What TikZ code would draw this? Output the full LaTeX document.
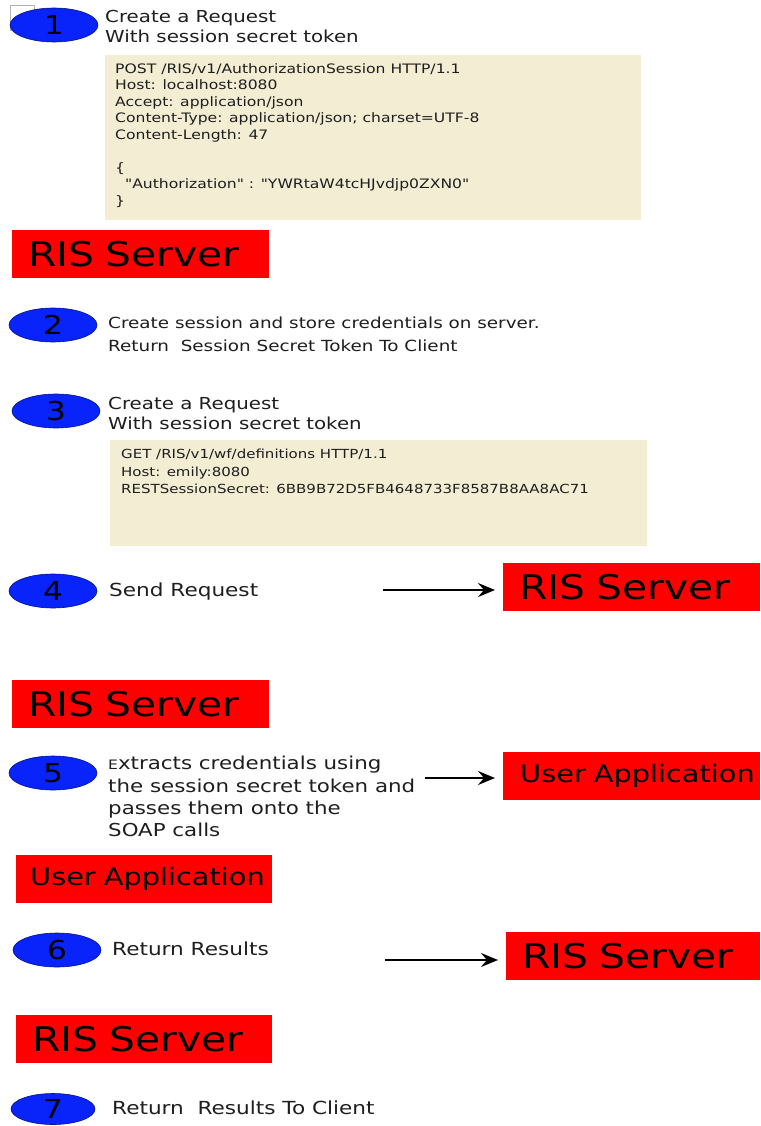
\documentclass[tikz,border=0pt]{standalone}
\usepackage{fontspec}
\setmainfont[FakeStretch=1.2]{DejaVu Sans}
\newfontfamily\codefont[FakeStretch=1.2]{DejaVu Sans}
\usetikzlibrary{shapes.geometric,arrows.meta}
\definecolor{boxred}{RGB}{255,0,0}
\definecolor{stepblue}{RGB}{8,36,250}
\definecolor{codebg}{RGB}{243,237,211}
\definecolor{txtgray}{RGB}{30,30,30}
\tikzset{
  stepell/.style={ellipse, fill=stepblue, draw=stepblue!55!black, line width=0.6pt,
    minimum width=88pt, minimum height=34pt, inner sep=0pt,
    font=\fontsize{26}{26}\selectfont},
  redbox/.style={fill=boxred, anchor=north west, minimum height=48pt, align=left,
    inner ysep=0pt, text=black},
  steptext/.style={anchor=north west, inner sep=0pt, align=left, text=txtgray},
  codebox/.style={fill=codebg, draw=none, anchor=north west, inner sep=0pt},
  codetext/.style={anchor=north west, inner sep=0pt, align=left, text=txtgray},
  arr/.style={line width=1.8pt, -{Stealth[length=17pt,width=14pt,inset=6pt]}, shorten >=8pt}
}
\begin{document}
\begin{tikzpicture}[x=1pt,y=-1pt]
\useasboundingbox (0,0) rectangle (760,1126);
\fill[white] (0,0) rectangle (760,1126);

% step 1
\draw[gray!60, line width=0.6pt] (10,5) rectangle (34,30);
\node[stepell] (e1) at (54,25) {1};
\node[steptext, font=\fontsize{16.5}{20.5}\selectfont] (t1) at (105,10)
  {Create a Request\\With session secret token};
\node[codebox, minimum width=536pt, minimum height=165pt] (c1) at (105,55) {};
\node[codetext, font=\codefont\fontsize{13}{16.5}\selectfont] (c1t) at (115,63)
  {POST /RIS/v1/AuthorizationSession HTTP/1.1\\
   Host: localhost:8080\\
   Accept: application/json\\
   Content-Type: application/json; charset=UTF-8\\
   Content-Length: 47\\
   \mbox{}\\
   \{\\
   \ \ "Authorization" : "YWRtaW4tcHJvdjp0ZXN0"\\
   \}};
\node[redbox, text width=225pt, inner xsep=16pt, font=\fontsize{34}{34}\selectfont] (r1) at (12,230) {RIS Server};

% step 2
\node[stepell] (e2) at (53,325) {2};
\node[steptext, font=\fontsize{15.3}{23}\selectfont] (t2) at (108,317)
  {Create session and store credentials on server.\\Return\ \ Session Secret Token To Client};

% step 3
\node[stepell] (e3) at (56,411) {3};
\node[steptext, font=\fontsize{16.5}{20}\selectfont] (t3) at (108,397)
  {Create a Request\\With session secret token};
\node[codebox, minimum width=537pt, minimum height=106pt] (c2) at (110,440) {};
\node[codetext, font=\codefont\fontsize{12.5}{17.5}\selectfont] (c2t) at (121,449)
  {GET /RIS/v1/wf/definitions HTTP/1.1\\
   Host: emily:8080\\
   RESTSessionSecret: 6BB9B72D5FB4648733F8587B8AA8AC71};

% step 4
\node[stepell] (e4) at (53,591) {4};
\node[steptext, font=\fontsize{18}{20}\selectfont] (t4) at (109,583) {Send Request};
\node[redbox, text width=225pt, inner xsep=16pt, font=\fontsize{34}{34}\selectfont] (r4) at (503,563) {RIS Server};
\coordinate (a4) at (383,590);
\draw[arr] (a4) -- (a4 -| r4.west);

% step 5
\node[redbox, text width=225pt, inner xsep=16pt, font=\fontsize{34}{34}\selectfont] (r5) at (12,680) {RIS Server};
\node[stepell] (e5) at (53,773) {5};
\node[steptext, font=\fontsize{17.8}{22.3}\selectfont] (t5) at (108,756)
  {{\fontsize{13}{22.3}\selectfont E}xtracts credentials using\\the session secret token and\\passes them onto the\\SOAP calls};
\node[redbox, text width=223pt, inner xsep=17pt, font=\fontsize{24}{24}\selectfont] (u5) at (503,752) {\mbox{User Application}};
\coordinate (a5) at (425,778);
\draw[arr] (a5) -- (a5 -| u5.west);

% step 6
\node[redbox, text width=228pt, inner xsep=14pt, font=\fontsize{24}{24}\selectfont] (u6) at (16,855) {\mbox{User Application}};
\node[stepell] (e6) at (57,950) {6};
\node[steptext, font=\fontsize{18}{20}\selectfont] (t6) at (112,942) {Return Results};
\node[redbox, text width=222pt, inner xsep=16pt, font=\fontsize{34}{34}\selectfont] (r6) at (506,932) {RIS Server};
\coordinate (a6) at (385,960);
\draw[arr] (a6) -- (a6 -| r6.west);

% step 7
\node[redbox, text width=224pt, inner xsep=16pt, font=\fontsize{34}{34}\selectfont] (r7) at (16,1015) {RIS Server};
\node[stepell, minimum width=84pt, minimum height=31pt] (e7) at (53,1109) {7};
\node[steptext, font=\fontsize{18}{20}\selectfont] (t7) at (112,1101) {Return\ \ Results To Client};
\end{tikzpicture}
\end{document}
